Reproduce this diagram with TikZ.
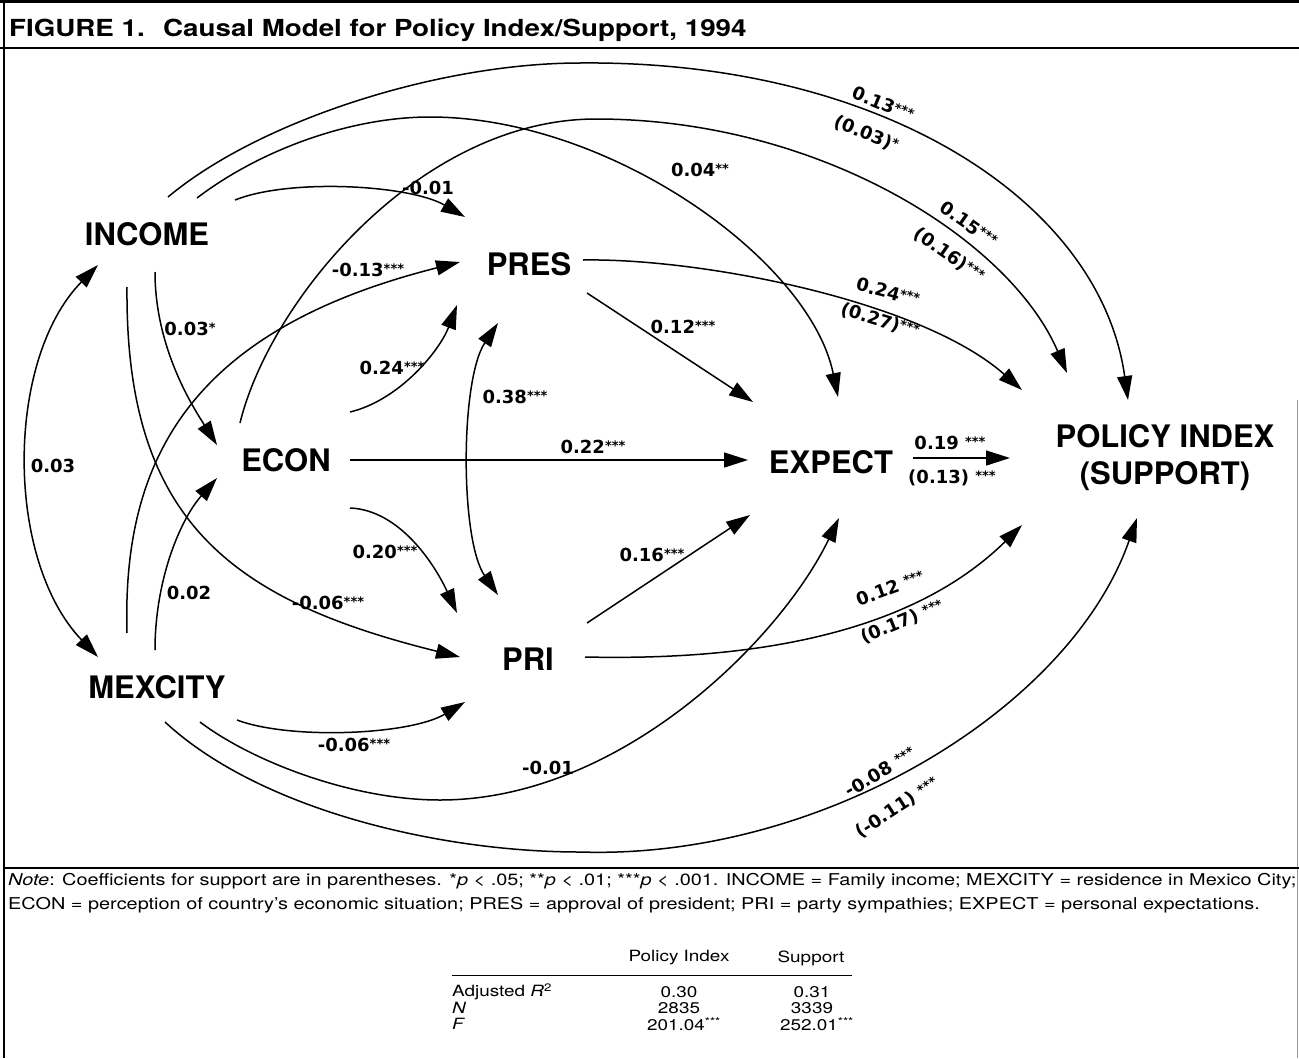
\documentclass[tikz,border=0pt]{standalone}
\usepackage{fontspec}
\setmainfont{TeX Gyre Heros}
\newfontfamily\lblfont{DejaVu Sans}
\newfontfamily\widefont{TeX Gyre Heros}[FakeStretch=1.22]
\newfontfamily\titlefont{TeX Gyre Heros}[FakeStretch=1.18]
\usetikzlibrary{arrows.meta}
\newcommand\sig[1]{\raisebox{3.5pt}{\fontsize{13}{13}\selectfont#1}}
\tikzset{
  var/.style={font=\bfseries\fontsize{31}{34}\selectfont, inner sep=0pt},
  lbl/.style={font=\lblfont\bfseries\fontsize{18}{18}\selectfont, inner sep=0pt},
  tab/.style={font=\widefont\fontsize{15.5}{17}\selectfont, inner sep=0pt},
  ttl/.style={anchor=base west, font=\titlefont\bfseries\fontsize{23.5}{23.5}\selectfont, inner sep=0pt},
  arr/.style={line width=1.5pt, -{Triangle[length=24pt,width=15pt]}},
  darr/.style={line width=1.5pt, {Triangle[length=24pt,width=15pt]}-{Triangle[length=24pt,width=15pt]}},
  frame/.style={line width=1.2pt},
}
\begin{document}
\begin{tikzpicture}[x=1pt,y=-1pt]
\useasboundingbox (0,0) rectangle (1299,1058);
% frame
\draw[line width=2.5pt] (0,1.5) -- (1299,1.5);
\draw[frame] (0,48) -- (1299,48);
\draw[frame] (4,0) -- (4,1058);
\draw[line width=0.6pt, black!40] (1297.5,400) -- (1297.5,1058);
\draw[frame] (4,868) -- (1299,868);
\node[ttl] (fig) at (9,36.5) {FIGURE 1.};
\node[ttl] (title) at (163,36.5) {Causal Model for Policy Index/Support, 1994};

% variables
\node[var] (inc) at (147,234) {INCOME};
\node[var] (econ) at (286,460) {ECON};
\node[var] (mex) at (157,687) {MEXCITY};
\node[var] (pres) at (529,264) {PRES};
\node[var] (pri) at (528,659) {PRI};
\node[var] (exp) at (831,462) {EXPECT};
\node[var, align=center, font=\bfseries\fontsize{31}{37}\selectfont] (pol) at (1165,458) {POLICY INDEX\\(SUPPORT)};

% connectors
\draw[darr] ([shift={(-49,31)}]inc.center) .. controls (5,360) and (5,560) .. ([shift={(-59,-30)}]mex.center);
\draw[arr] ([shift={(8,38)}]inc.center) .. controls (155,350) and (195,410) .. ([shift={(-69,-15)}]econ.center);
\draw[arr] ([shift={(-20,53)}]inc.center) .. controls (125,520) and (230,600) .. ([shift={(-68,-2)}]pri.center);
\draw[arr] ([shift={(88,-34)}]inc.center) .. controls (290,178) and (410,185) .. ([shift={(-64,-47)}]pres.center);
\draw[arr] ([shift={(50,-36)}]inc.center) .. controls (260,150) and (350,117) .. (430,117) .. controls (610,117) and (810,260) .. ([shift={(7,-65)}]exp.center);
\draw[arr] ([shift={(21,-37)}]inc.center) .. controls (260,120) and (440,63) .. (580,63) .. controls (880,60) and (1100,200) .. ([shift={(-37,-58)}]pol.center);
\draw[arr] ([shift={(-46,-37)}]econ.center) .. controls (270,300) and (420,119) .. (596,119) .. controls (820,119) and (1010,240) .. ([shift={(-98,-85)}]pol.center);
\draw[arr] ([shift={(54,-4)}]pres.center) .. controls (700,258) and (920,300) .. ([shift={(-143,-68)}]pol.center);
\draw[arr] ([shift={(58,29)}]pres.center) -- ([shift={(-78,-60)}]exp.center);
\draw[arr] ([shift={(64,0)}]econ.center) -- ([shift={(-83,-2)}]exp.center);
\draw[darr] ([shift={(-31,59)}]pres.center) .. controls (460,380) and (460,540) .. ([shift={(-30,-64)}]pri.center);
\draw[arr] ([shift={(64,-48)}]econ.center) .. controls (400,400) and (440,350) .. ([shift={(-72,41)}]pres.center);
\draw[arr] ([shift={(64,48)}]econ.center) .. controls (400,510) and (435,565) .. ([shift={(-71,-46)}]pri.center);
\draw[arr] ([shift={(-2,-37)}]mex.center) .. controls (155,580) and (180,520) .. ([shift={(-69,18)}]econ.center);
\draw[arr] ([shift={(-30,-54)}]mex.center) .. controls (122,460) and (190,330) .. ([shift={(-69,-2)}]pres.center);
\draw[arr] ([shift={(80,33)}]mex.center) .. controls (290,740) and (410,735) .. ([shift={(-63,43)}]pri.center);
\draw[arr] ([shift={(43,35)}]mex.center) .. controls (250,760) and (350,800) .. (440,800) .. controls (620,800) and (780,640) .. ([shift={(8,56)}]exp.center);
\draw[arr] ([shift={(8,35)}]mex.center) .. controls (260,810) and (440,852) .. (580,852) .. controls (820,860) and (1070,710) .. ([shift={(-28,60)}]pol.center);
\draw[arr] ([shift={(59,-36)}]pri.center) -- ([shift={(-81,53)}]exp.center);
\draw[arr] ([shift={(57,-2)}]pri.center) .. controls (720,660) and (900,645) .. ([shift={(-143,67)}]pol.center);
\draw[arr] ([shift={(82,-4)}]exp.center) -- ([shift={(-155,0)}]pol.center);

% coefficient labels
\node[lbl] (l1) at (53,466) {0.03};
\node[lbl] (l2) at (190,329) {0.03\sig{*}};
\node[lbl] (l3) at (328,603) {-0.06\sig{***}};
\node[lbl] (l4) at (428,188) {-0.01};
\node[lbl] (l5) at (700,170) {0.04\sig{**}};
\node[lbl, rotate=-22] (l6a) at (883,104) {0.13\sig{***}};
\node[lbl, rotate=-22] (l6b) at (866,134) {(0.03)\sig{*}};
\node[lbl, rotate=-35] (l7a) at (969,224) {0.15\sig{***}};
\node[lbl, rotate=-35] (l7b) at (949,255) {(0.16)\sig{***}};
\node[lbl, rotate=-15] (l8a) at (888,292) {0.24\sig{***}};
\node[lbl, rotate=-17] (l8b) at (880,321) {(0.27)\sig{***}};
\node[lbl] (l9) at (683,327) {0.12\sig{***}};
\node[lbl] (l10) at (593,447) {0.22\sig{***}};
\node[lbl] (l11) at (515,397) {0.38\sig{***}};
\node[lbl] (l12) at (392,368) {0.24\sig{***}};
\node[lbl] (l13) at (385,552) {0.20\sig{***}};
\node[lbl] (l14) at (189,593) {0.02};
\node[lbl] (l15) at (368,270) {-0.13\sig{***}};
\node[lbl] (l16) at (354,745) {-0.06\sig{***}};
\node[lbl] (l17) at (548,768) {-0.01};
\node[lbl, rotate=31] (l18a) at (880,772) {-0.08 \sig{***}};
\node[lbl, rotate=33] (l18b) at (897,808) {(-0.11) \sig{***}};
\node[lbl] (l19) at (652,555) {0.16\sig{***}};
\node[lbl, rotate=20] (l20a) at (890,588) {0.12 \sig{***}};
\node[lbl, rotate=22] (l20b) at (902,622) {(0.17) \sig{***}};
\node[lbl] (l21a) at (950,443) {0.19 \sig{***}};
\node[lbl] (l21b) at (952,478) {(0.13) \sig{***}};

% note
\node[anchor=west, inner sep=0pt, font=\widefont\fontsize{16.3}{16.3}\selectfont] (note1) at (8,881)
  {\textit{Note}: Coefficients for support are in parentheses. *\textit{p} < .05; **\textit{p} < .01; ***\textit{p} < .001. INCOME = Family income; MEXCITY = residence in Mexico City;};
\node[anchor=west, inner sep=0pt, font=\widefont\fontsize{16.3}{16.3}\selectfont] (note2) at (8,905)
  {ECON = perception of country’s economic situation; PRES = approval of president; PRI = party sympathies; EXPECT = personal expectations.};

% table
\node[tab] (h1) at (679,958) {Policy Index};
\node[tab] (h2) at (811,958) {Support};
\draw[line width=0.8pt] (452,975) -- (852,975);
\node[tab, anchor=west] (r1) at (452,992) {Adjusted \textit{R}\textsuperscript{2}};
\node[tab, anchor=west] (r2) at (452,1008) {\textit{N}};
\node[tab, anchor=west] (r3) at (452,1024) {\textit{F}};
\node[tab] (v11) at (679,992) {0.30};
\node[tab] (v12) at (812,992) {0.31};
\node[tab] (v21) at (679,1008) {2835};
\node[tab] (v22) at (812,1008) {3339};
\node[tab] (v31) at (684,1024) {201.04\textsuperscript{***}};
\node[tab] (v32) at (817,1024) {252.01\textsuperscript{***}};
\end{tikzpicture}
\end{document}
